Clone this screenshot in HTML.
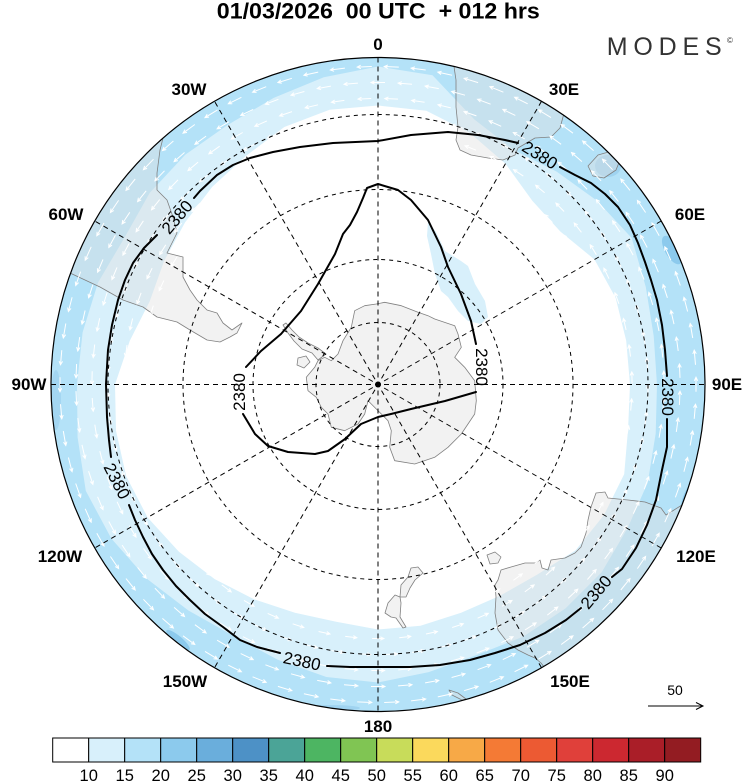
<!DOCTYPE html>
<html>
<head>
<meta charset="utf-8">
<style>
html,body{margin:0;padding:0;background:#fff;}
svg{display:block;}
text{font-family:"Liberation Sans",Arial,sans-serif;}
</style>
</head>
<body>
<svg width="750" height="782" viewBox="0 0 750 782" xmlns="http://www.w3.org/2000/svg">
<defs>
<clipPath id="disc"><circle cx="378" cy="384.5" r="327"/></clipPath>
</defs>

<!-- Title -->
<text x="378.3" y="18.3" font-size="22" font-weight="bold" text-anchor="middle" textLength="323" lengthAdjust="spacingAndGlyphs" style="white-space:pre" xml:space="preserve">01/03/2026  00 UTC  + 012 hrs</text>

<!-- MODES logo -->
<text x="606.7" y="55" font-size="25" fill="#333" textLength="115" lengthAdjust="spacing">MODES</text>
<text x="727" y="43" font-size="8" fill="#333">©</text>

<g clip-path="url(#disc)">
  <!-- medium band -->
  <circle cx="378" cy="384.5" r="327" fill="#b4e2f8"/>
  <!-- light band -->
  <polygon fill="#d8f0fb" points="378,66.5 432.5,75.3 474.4,119.5 513.5,149.8 556.7,171.6 597.1,200.7 631.7,238 645.8,287 653.7,335.9 657,384.5 655.7,433.5 647.7,482.7 627.4,528.5 601.7,572.2 565.7,608.2 523.5,636.5 476.5,655.1 428.7,672.1 378,682.5 326.4,677 277.8,659.8 233,635.6 188.4,610.5 146.7,578.6 111.3,538.5 85.8,490.9 77.6,437.4 77,384.5 82.6,332.4 98,282.6 124.3,238 149.7,192.9 185.2,154.7 228,124.7 273.7,97.9 323.8,77.2"/>
  <!-- white interior -->
  <polygon fill="#ffffff" points="378,105.5 426.3,110.7 469.7,132.7 505.5,163.7 532.3,200.7 560.3,231.5 594.5,259.5 615.7,298 626.2,340.8 630,384.5 628.1,428.6 624.2,474.1 604,515 575.6,550.3 537.4,574.5 500,595.8 461.1,612.8 420.5,625.8 378,629.5 336.2,621.8 294.9,612.8 254,599.3 214.7,579.1 178.8,551.6 147.6,517.5 126.2,476.2 116,430.7 115,384.5 129.8,340.8 149.7,301.4 164.1,261 185,222.5 212.2,186.9 246,155.9 284.3,127 329.6,109.7"/>
  <!-- interior light blob -->
  <polygon fill="#d8f0fb" points="428,222 436,232 445,251 461,261 468,266 475,284 485,301 488,317 481,324 468,321 458,311 448,297 441,291 435,274 431,254 427,236"/>
  <!-- darker patches -->
  <ellipse cx="608" cy="166" rx="13" ry="11" fill="#9fd3f0"/>
  <ellipse cx="672" cy="250" rx="7" ry="16" fill="#8ccaed" transform="rotate(-30 672 250)"/>
  <ellipse cx="688" cy="498" rx="5" ry="16" fill="#8ccaed" transform="rotate(20 688 498)"/>
  <ellipse cx="178" cy="640" rx="15" ry="4" fill="#8ccaed" transform="rotate(40 178 640)"/>
  <ellipse cx="56" cy="400" rx="5" ry="30" fill="#a3d6f2"/>
  <ellipse cx="330" cy="708" rx="30" ry="3" fill="#9fd3f0"/>

  <!-- land -->
  <g fill="#e0e0e0" fill-opacity="0.42" stroke="#808080" stroke-width="0.8" stroke-linejoin="round">
    <!-- Antarctica -->
    <polygon points="354.7,310.7 364.7,305.7 376.3,304 384.7,302.3 401.3,305.7 418,312.3 428,315.7 434.7,319 454.7,325.7 458,334 461.3,347.3 454.7,357.3 464.7,367.3 474.7,380.7 476.3,400.7 474.7,414 468,424 461.3,434 448,447.3 434.7,457.3 414.7,464 394.7,460.7 389.7,447.3 391.3,430.7 388,420.7 371.3,404 368,400.7 364.7,414 358,424 344.7,430.7 331.3,427.3 328,414 321.3,407.3 316.3,397.3 308,390.7 306.3,377.3 314.7,367.3 318,360.7 324.7,357.3 331.3,360.7 338,354 343,340.7 351.3,327.3"/>
    <polygon points="318,360 312,353 302,349 294,341 288,333 283,325 286,323 292,330 299,337 308,343 318,348 326,354"/>
    <polygon points="298,358 306,356 310,362 304,368 297,365"/>
    <!-- South America -->
    <polygon points="175,60 170,100 165,130 160,150 157,173 157,190 167,200 173,217 177,233 167,253 183,257 183,277 190,290 197,300 207,310 217,313 223,323 232,330 242,323 237,333 230,337 220,342 207,340 190,330 177,322 157,317 143,307 123,300 100,287 70,273 40,262 30,60"/>
    <!-- Africa -->
    <polygon points="452,40 453,60 456,80 456,107 458,127 456,140 460,150 471,155 488,158 503,160 515,155 518,148 535,138 551,137 560,128 563,117 568,100 580,60 560,40"/>
    <!-- Madagascar -->
    <polygon points="598,155 612,151 620,160 616,170 604,178 593,176 588,166"/>
    <!-- Australia -->
    <polygon points="596,493 591,507 588,520 586,533 581,547 575,553 565,558 551,560 548,570 542,568 540,560 535,563 525,563 511,567 501,570 498,580 495,585 496,597 495,613 498,630 508,643 518,650 528,655 535,658 541,663 548,672 600,730 740,600 690,500 666,515 661,508 645,502 628,500 608,498 605,492"/>
    <!-- Tasmania -->
    <polygon points="487,555 495,552 501,557 498,563 490,564"/>
    <!-- New Zealand -->
    <polygon points="411,568 418,567 423,573 415,580 410,588 406,597 400,597 401,585 408,577"/>
    <polygon points="395,595 400,597 401,603 400,617 406,627 403,628 396,618 391,617 385,613 388,603"/>
    <polygon points="449,690 458,693 466,699 462,700 452,695"/>
  </g>

  <!-- wind arrows -->
  <path id="arrows" fill="none" stroke="#ffffff" stroke-width="1" d=""/>

  <!-- grid -->
  <g fill="none" stroke="#000" stroke-width="1" stroke-dasharray="4,4">
    <circle cx="378" cy="384.5" r="62"/>
    <circle cx="378" cy="384.5" r="125"/>
    <circle cx="378" cy="384.5" r="195"/>
    <circle cx="378" cy="384.5" r="270"/>
  </g>
  <g fill="none" stroke="#000" stroke-width="1" stroke-dasharray="5,4">
    <line x1="378" y1="57.5" x2="378" y2="711.5"/>
    <line x1="51" y1="384.5" x2="705" y2="384.5"/>
    <line x1="541.5" y1="101.3" x2="214.5" y2="667.7"/>
    <line x1="661.2" y1="221" x2="94.8" y2="548"/>
    <line x1="661.2" y1="548" x2="94.8" y2="221"/>
    <line x1="541.5" y1="667.7" x2="214.5" y2="101.3"/>
  </g>

  <!-- contours -->
  <g fill="none" stroke="#000" stroke-width="2" stroke-linejoin="round" stroke-linecap="round">
    <polyline points="560,167 575,175 591,183 605,194 618,207 630,225 638,243 645,262 651,280 657,300 662,325 665,350 667,376"/>
    <polyline points="667,419 667,447 662,470 656,500 647,525 636,548 622,569 612,577"/>
    <polyline points="581,608 566,620 545,633 520,645 495,653 470,660 440,665 410,667 380,667 350,667 327,666"/>
    <polyline points="280,653 257,647 240,640 223,627 205,614 190,600 176,586 163,570 152,554 143,537 135,520 129,505"/>
    <polyline points="111,457 109,440 107,417 106,384 108,350 112,325 118,300 125,280 133,263 144,248 157,235"/>
    <polyline points="194,198 200,191 217,175 233,165 250,158 273,152 300,147 333,143 378,141 411,135 448,132 478,135 505,140 518,143"/>
    <polyline points="476,344 471,321 461,294 448,267 441,247 428,220 411,200 398,190 378,184 367,188 363,198 357,212 350,225 343,234 335,254 318,284 301,311 281,334 261,351 246,367"/>
    <polyline points="243,414 255,434 268,446 288,452 315,454 328,451 345,439 361,424 378,417 391,414 411,409 445,401 476,392"/>
  </g>
  <g font-size="17" text-anchor="middle" fill="#000">
    <text transform="translate(540,155) rotate(32)" dy="0.35em">2380</text>
    <text transform="translate(177,217) rotate(-50)" dy="0.35em">2380</text>
    <text transform="translate(117,481) rotate(63)" dy="0.35em">2380</text>
    <text transform="translate(302,661) rotate(12)" dy="0.35em">2380</text>
    <text transform="translate(596,592) rotate(-50)" dy="0.35em">2380</text>
    <text transform="translate(668,397) rotate(90)" dy="0.35em">2380</text>
    <text transform="translate(239,392) rotate(-90)" dy="0.35em">2380</text>
    <text transform="translate(482,367) rotate(90)" dy="0.35em">2380</text>
  </g>
  <circle cx="378" cy="384.5" r="3" fill="#000"/>
</g>
<circle cx="378" cy="384.5" r="327" fill="none" stroke="#000" stroke-width="1.2"/>

<!-- longitude labels -->
<g font-size="17" font-weight="bold" text-anchor="middle" fill="#000">
  <text x="378" y="50">0</text>
  <text x="564" y="95">30E</text>
  <text x="690" y="220">60E</text>
  <text x="727" y="390">90E</text>
  <text x="696" y="562">120E</text>
  <text x="570" y="687">150E</text>
  <text x="378" y="732">180</text>
  <text x="185" y="687">150W</text>
  <text x="60" y="562">120W</text>
  <text x="29" y="390">90W</text>
  <text x="66" y="220">60W</text>
  <text x="189" y="95">30W</text>
</g>

<!-- reference vector -->
<text x="675" y="695" font-size="14" text-anchor="middle">50</text>
<g fill="none" stroke="#000" stroke-width="1">
  <line x1="648" y1="706" x2="703" y2="706"/>
  <polyline points="696,702.5 703,706 696,709.5"/>
</g>

<!-- colorbar -->
<g stroke="#000" stroke-width="1">
  <rect x="52.7" y="738" width="36" height="24" fill="#ffffff"/>
  <rect x="88.7" y="738" width="36" height="24" fill="#d8f0fb"/>
  <rect x="124.7" y="738" width="36" height="24" fill="#b4e2f8"/>
  <rect x="160.7" y="738" width="36" height="24" fill="#8ccaed"/>
  <rect x="196.7" y="738" width="36" height="24" fill="#6aaedc"/>
  <rect x="232.7" y="738" width="36" height="24" fill="#4d91c6"/>
  <rect x="268.7" y="738" width="36" height="24" fill="#4ba497"/>
  <rect x="304.7" y="738" width="36" height="24" fill="#4db562"/>
  <rect x="340.7" y="738" width="36" height="24" fill="#80c553"/>
  <rect x="376.7" y="738" width="36" height="24" fill="#c8dc5a"/>
  <rect x="412.7" y="738" width="36" height="24" fill="#fbd95c"/>
  <rect x="448.7" y="738" width="36" height="24" fill="#f7a947"/>
  <rect x="484.7" y="738" width="36" height="24" fill="#f47a35"/>
  <rect x="520.7" y="738" width="36" height="24" fill="#ec5a33"/>
  <rect x="556.7" y="738" width="36" height="24" fill="#e0403a"/>
  <rect x="592.7" y="738" width="36" height="24" fill="#cc2830"/>
  <rect x="628.7" y="738" width="36" height="24" fill="#aa1e28"/>
  <rect x="664.7" y="738" width="36" height="24" fill="#931c22"/>
</g>
<g font-size="16.5" text-anchor="middle" fill="#000">
  <text x="88.7" y="781">10</text>
  <text x="124.7" y="781">15</text>
  <text x="160.7" y="781">20</text>
  <text x="196.7" y="781">25</text>
  <text x="232.7" y="781">30</text>
  <text x="268.7" y="781">35</text>
  <text x="304.7" y="781">40</text>
  <text x="340.7" y="781">45</text>
  <text x="376.7" y="781">50</text>
  <text x="412.7" y="781">55</text>
  <text x="448.7" y="781">60</text>
  <text x="484.7" y="781">65</text>
  <text x="520.7" y="781">70</text>
  <text x="556.7" y="781">75</text>
  <text x="592.7" y="781">80</text>
  <text x="628.7" y="781">85</text>
  <text x="664.7" y="781">90</text>
</g>
</svg>
<script>
(function(){
  var cx=378,cy=384.5,s='',k=0;
  for(var r=238;r<=326;r+=16){
    var n=Math.round(2*Math.PI*r/27);
    var off=(k%2)*0.5;k++;
    for(var i=0;i<n;i++){
      var t=(i+off)/n*2*Math.PI;
      var px=cx+r*Math.sin(t),py=cy-r*Math.cos(t);
      var dx=-Math.cos(t),dy=-Math.sin(t);
      var L=11+(r-238)/88*4;
      var x0=px-dx*L/2,y0=py-dy*L/2,x1=px+dx*L/2,y1=py+dy*L/2;
      var ha=0.45,hl=4,bx=-dx,by=-dy;
      var h1x=x1+hl*(bx*Math.cos(ha)-by*Math.sin(ha)),h1y=y1+hl*(bx*Math.sin(ha)+by*Math.cos(ha));
      var h2x=x1+hl*(bx*Math.cos(-ha)-by*Math.sin(-ha)),h2y=y1+hl*(bx*Math.sin(-ha)+by*Math.cos(-ha));
      s+='M'+x0.toFixed(1)+' '+y0.toFixed(1)+'L'+x1.toFixed(1)+' '+y1.toFixed(1)+'M'+h1x.toFixed(1)+' '+h1y.toFixed(1)+'L'+x1.toFixed(1)+' '+y1.toFixed(1)+'L'+h2x.toFixed(1)+' '+h2y.toFixed(1);
    }
  }
  document.getElementById('arrows').setAttribute('d',s);
})();
</script>
</body>
</html>
